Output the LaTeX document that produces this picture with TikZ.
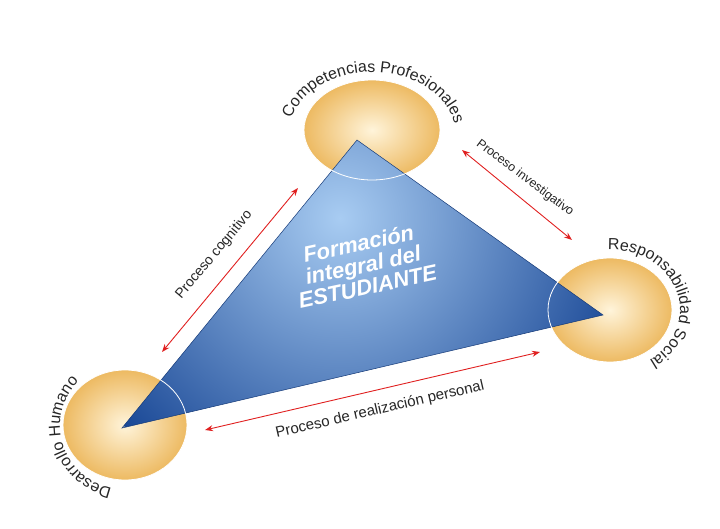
\documentclass[tikz,border=0pt]{standalone}
\usepackage{fontspec}
\setmainfont{Liberation Sans}
\usetikzlibrary{decorations.text,arrows.meta}
\definecolor{ered}{HTML}{E02020}
\definecolor{elin}{HTML}{FFF4DA}
\definecolor{eout}{HTML}{EDBA62}
\definecolor{tin}{HTML}{A8CCF2}
\definecolor{tout}{HTML}{1A4896}
\tikzset{
 blob/.style={inner color=elin, outer color=eout},
 rim/.style={draw=white, line width=0.8pt},
 proc/.style={draw=ered, line width=0.9pt, {Stealth[length=8pt,width=6pt]}-{Stealth[length=8pt,width=6pt]}},
 plab/.style={text=black!85},
 arclab/.style={decorate, decoration={text along path, text align=center, text={|\fontsize{16}{18}\selectfont\color{black!85}|#1}}}
}
\begin{document}
\begin{tikzpicture}[x=1pt,y=1pt]
\useasboundingbox (0,0) rectangle (720,528);
% ellipses
\shade[blob] (372,398) ellipse [x radius=68, y radius=50];
\shade[blob] (610,218) ellipse [x radius=62, y radius=52];
\shade[blob] (125,103) ellipse [x radius=62, y radius=55];
\node[coordinate] (cT) at (372,398) {};
\node[coordinate] (cR) at (610,218) {};
\node[coordinate] (cL) at (125,103) {};
% triangle
\coordinate (T) at (357,388);
\coordinate (R) at (603,213);
\coordinate (L) at (122,100);
\begin{scope}
\clip (T) -- (R) -- (L) -- cycle;
\shade[inner color=tin, outer color=tout] (340,310) circle [radius=300];
\end{scope}
\draw[tout!80!black, line width=0.5pt] (T) -- (R) -- (L) -- cycle;
\draw[rim] (cT) ellipse [x radius=68, y radius=50];
\draw[rim] (cR) ellipse [x radius=62, y radius=52];
\draw[rim] (cL) ellipse [x radius=62, y radius=55];
% central text
\node[rotate=12, align=center, text=white, font=\bfseries\itshape\fontsize{22}{22}\selectfont] (center) at (363,263) {Formación\\integral del\\ESTUDIANTE};
% arrows
\coordinate (a1) at (298,340); \coordinate (a2) at (162,176);
\coordinate (b1) at (462,378); \coordinate (b2) at (572,288);
\coordinate (c1) at (205,98);  \coordinate (c2) at (540,176);
\draw[proc] (a1) -- (a2);
\draw[proc] (b1) -- (b2);
\draw[proc] (c1) -- (c2);
\node[plab, rotate=50, font=\fontsize{14}{16}\selectfont] (lc) at (214,273) {Proceso cognitivo};
\node[plab, rotate=-37, font=\fontsize{12.5}{14}\selectfont] (li) at (525,350) {Proceso investigativo};
\node[plab, rotate=13, font=\fontsize{15}{17}\selectfont] (lr) at (380,118) {Proceso de realización personal};
% curved labels
\path[arclab={Competencias Profesionales}] (372,392) ++(170:84 and 64) arc[start angle=170, end angle=5, x radius=84, y radius=64];
\path[arclab={Responsabilidad Social}] (612,218) ++(125:68 and 60) arc[start angle=125, end angle=-88, x radius=68, y radius=60];
\path[arclab={Desarrollo Humano}] (126,102) ++(-72:66 and 64) arc[start angle=-72, end angle=-255, x radius=66, y radius=64];
\end{tikzpicture}
\end{document}
